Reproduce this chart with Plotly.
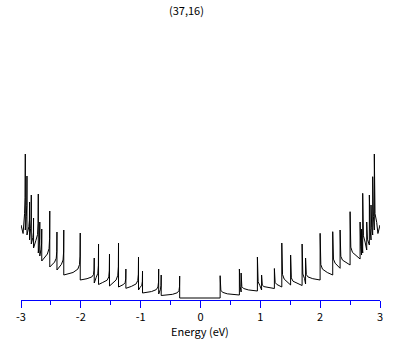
import plotly.graph_objects as go

# ---- data (DOS of nanotube (37,16), arbitrary units) ----
gap_floor = 0.02

# negative-energy branch, ordered from the gap outward
neg_E     = [-0.348, -0.657, -0.699, -0.969, -1.036, -1.247, -1.370, -1.521, -1.704, -1.776,
             -2.010, -2.285, -2.399, -2.519, -2.653, -2.686, -2.711, -2.790, -2.828, -2.857,
             -2.900, -2.928]
neg_peak  = [0.24, 0.25, 0.31, 0.29, 0.43, 0.31, 0.57, 0.46, 0.56, 0.42,
             0.67, 0.70, 0.68, 0.89, 0.71, 0.78, 1.06, 0.82, 1.05, 0.98,
             1.24, 1.46]
neg_base  = [0.045, 0.06, 0.07, 0.10, 0.117, 0.13, 0.14, 0.155, 0.17, 0.20,
             0.25, 0.30, 0.33, 0.39, 0.44, 0.47, 0.52, 0.56, 0.60, 0.65,
             0.70, 0.665]
neg_end_E, neg_end_val = -3.0, 0.75

# positive-energy branch, ordered from the gap outward
pos_E     = [0.328, 0.650, 0.679, 0.951, 1.021, 1.235, 1.359, 1.506, 1.698, 1.756,
             1.999, 2.210, 2.333, 2.500, 2.667, 2.692, 2.711, 2.778, 2.822, 2.850,
             2.878, 2.905]
pos_peak  = [0.243, 0.31, 0.27, 0.43, 0.25, 0.315, 0.57, 0.45, 0.56, 0.42,
             0.667, 0.683, 0.70, 0.883, 0.78, 0.71, 1.067, 0.78, 1.05, 0.95,
             1.233, 1.46]
pos_base  = [0.05, 0.08, 0.09, 0.10, 0.115, 0.13, 0.15, 0.145, 0.16, 0.20,
             0.25, 0.317, 0.35, 0.41, 0.45, 0.47, 0.50, 0.55, 0.60, 0.65,
             0.70, 0.665]
pos_end_E, pos_end_val = 3.0, 0.75

x_tick_vals = [-3, -2, -1, 0, 1, 2, 3]
x_tick_text = ["-3", "-2", "-1", "0", "1", "2", "3"]
title_text = "(37,16)"
x_title = "Energy (eV)"

# van Hove line shape: fraction of (peak-base) remaining at a distance from the singularity
decay = [(0.003, 0.45), (0.012, 0.25), (0.04, 0.14), (0.12, 0.06)]


def branch(E, peak, base, end_E, end_val):
    sgn = 1 if E[0] > 0 else -1
    xs, ys = [], []
    level = gap_floor
    n = len(E)
    for i in range(n):
        e, p, b = E[i], peak[i], base[i]
        nxt = E[i + 1] if i + 1 < n else (end_E - sgn * 0.035)
        xs += [e, e]
        ys += [level, p]
        span = abs(nxt - e)
        for off, frac in decay:
            if off < 0.7 * span:
                xs.append(e + sgn * off)
                ys.append(b + frac * (p - b))
        xs.append(nxt)
        ys.append(b)
        level = b
    xs.append(end_E)
    ys.append(end_val)
    return xs, ys


nx, ny = branch(neg_E, neg_peak, neg_base, neg_end_E, neg_end_val)
px_, py_ = branch(pos_E, pos_peak, pos_base, pos_end_E, pos_end_val)
x_all = nx[::-1] + px_
y_all = ny[::-1] + py_

fig = go.Figure()
fig.add_trace(go.Scatter(x=x_all, y=y_all, mode="lines",
                         line=dict(color="black", width=1), hoverinfo="skip"))

FONT = "Noto Sans CJK JP, DejaVu Sans, sans-serif"
BLUE = "#0000ff"

fig.update_layout(
    width=409, height=345,
    margin=dict(l=21, r=29, t=20, b=45),
    paper_bgcolor="white", plot_bgcolor="white",
    showlegend=False,
    font=dict(family=FONT, size=11, color="black"),
    xaxis=dict(range=[-3, 3], showgrid=False, zeroline=False,
               showline=True, linecolor=BLUE, linewidth=1,
               ticks="outside", ticklen=7, tickcolor=BLUE, tickwidth=1,
               tickvals=x_tick_vals, ticktext=x_tick_text,
               tickfont=dict(family=FONT, size=11, color="black"),
               minor=dict(dtick=0.5, ticks="outside", ticklen=4,
                          tickcolor=BLUE, tickwidth=1, showgrid=False)),
    yaxis=dict(range=[0, 2.8], visible=False),
    annotations=[
        dict(text=title_text, x=0.462, y=1.037, xref="paper", yref="paper",
             showarrow=False, font=dict(family=FONT, size=11, color="black"),
             xanchor="center", yanchor="middle"),
        dict(text=x_title, x=0.4986, y=-0.111, xref="paper", yref="paper",
             showarrow=False, font=dict(family=FONT, size=11, color="black"),
             xanchor="center", yanchor="middle"),
    ],
)

fig.write_html("out.html", config={"displayModeBar": False},
               post_script="document.body.style.margin='0';document.body.style.overflow='hidden';")
